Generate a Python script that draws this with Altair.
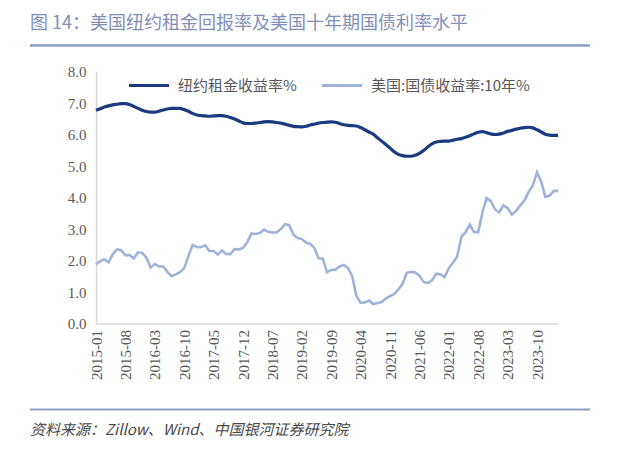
import altair as alt
import pandas as pd

# ---- data ----
months = [f"{y}-{m:02d}" for y in range(2015, 2025) for m in range(1, 13)][:111]
tick_months = months[::7][:16]

rent_yield = [
    6.77, 6.82, 6.87, 6.91, 6.94, 6.96, 6.98, 6.98, 6.95, 6.89, 6.83, 6.77,
    6.73, 6.71, 6.71, 6.74, 6.78, 6.81, 6.83, 6.83, 6.83, 6.79, 6.74, 6.67,
    6.62, 6.60, 6.59, 6.58, 6.59, 6.60, 6.60, 6.58, 6.54, 6.49, 6.43, 6.37,
    6.35, 6.35, 6.36, 6.38, 6.40, 6.41, 6.40, 6.38, 6.36, 6.33, 6.29, 6.26,
    6.25, 6.24, 6.26, 6.30, 6.33, 6.36, 6.38, 6.39, 6.40, 6.39, 6.35, 6.31,
    6.29, 6.28, 6.27, 6.22, 6.15, 6.08, 6.01, 5.90, 5.79, 5.68, 5.57, 5.45,
    5.37, 5.33, 5.31, 5.31, 5.34, 5.40, 5.49, 5.60, 5.70, 5.76, 5.78, 5.79,
    5.79, 5.82, 5.85, 5.87, 5.91, 5.96, 6.02, 6.07, 6.09, 6.06, 6.02, 6.00,
    6.01, 6.05, 6.10, 6.13, 6.17, 6.20, 6.22, 6.23, 6.21, 6.15, 6.08, 6.01,
    5.98, 5.97, 5.97,
]

treasury_10y = [
    1.88, 1.98, 2.04, 1.94, 2.20, 2.36, 2.32, 2.17, 2.17, 2.07, 2.26, 2.24,
    2.09, 1.78, 1.89, 1.81, 1.81, 1.64, 1.50, 1.56, 1.63, 1.76, 2.14, 2.49,
    2.43, 2.42, 2.48, 2.30, 2.30, 2.19, 2.32, 2.21, 2.20, 2.36, 2.35, 2.40,
    2.58, 2.86, 2.84, 2.87, 2.98, 2.91, 2.89, 2.89, 3.00, 3.15, 3.12, 2.83,
    2.71, 2.68, 2.57, 2.53, 2.40, 2.07, 2.06, 1.63, 1.70, 1.71, 1.81, 1.86,
    1.76, 1.50, 0.87, 0.66, 0.67, 0.73, 0.62, 0.65, 0.68, 0.79, 0.87, 0.93,
    1.08, 1.26, 1.61, 1.64, 1.62, 1.52, 1.32, 1.28, 1.37, 1.58, 1.56, 1.47,
    1.76, 1.93, 2.13, 2.75, 2.90, 3.14, 2.90, 2.90, 3.52, 3.98, 3.89, 3.62,
    3.53, 3.75, 3.66, 3.46, 3.57, 3.75, 3.90, 4.17, 4.38, 4.80, 4.50, 4.02,
    4.06, 4.21, 4.21,
]

y_ticks = [0, 1, 2, 3, 4, 5, 6, 7, 8]

s1 = "纽约租金收益率%"
s2 = "美国:国债收益率:10年%"
title_text = "图 14：美国纽约租金回报率及美国十年期国债利率水平"
source_text = "资料来源：Zillow、Wind、中国银河证券研究院"

dark_col = "#1C3A80"
light_col = "#9FB3D9"

df = pd.DataFrame({
    "month": months + months,
    "value": rent_yield + treasury_10y,
    "series": [s1] * len(months) + [s2] * len(months),
})

x_enc = alt.X("month:O", sort=months,
              scale=alt.Scale(type="point", domain=months, padding=0),
              axis=alt.Axis(values=tick_months, labelAngle=-90, title=None))
y_enc = alt.Y("value:Q", scale=alt.Scale(domain=[0, 8], nice=False),
              axis=alt.Axis(values=y_ticks, format=".1f", title=None))
color_enc = alt.Color("series:N",
                      scale=alt.Scale(domain=[s1, s2], range=[dark_col, light_col]),
                      legend=alt.Legend(title=None, orient="none", legendX=31, legendY=-8,
                                        direction="horizontal", symbolType="stroke",
                                        symbolSize=1600, symbolStrokeWidth=3.2,
                                        labelFontSize=15, labelFont="Noto Sans CJK SC",
                                        labelColor="#595959", columnPadding=18,
                                        labelOffset=7))

base = alt.Chart(df)
dark = base.transform_filter(alt.datum.series == s1).mark_line(
    interpolate="monotone", strokeWidth=3.2
).encode(x=x_enc, y=y_enc, color=color_enc)
light = base.transform_filter(alt.datum.series == s2).mark_line(
    strokeWidth=2.6
).encode(x=x_enc, y=y_enc, color=color_enc)

title_layer = alt.Chart(pd.DataFrame({"t": [title_text]})).mark_text(
    align="left", baseline="middle", fontSize=18, font="Noto Sans CJK SC", color="#8390B6"
).encode(x=alt.value(-66), y=alt.value(-48), text="t:N")
title_rule = alt.Chart(pd.DataFrame({"a": [0]})).mark_rule(
    color="#8E9DC5", strokeWidth=2.5
).encode(x=alt.value(-66), x2=alt.value(494), y=alt.value(-26))

source_rule = alt.Chart(pd.DataFrame({"a": [0]})).mark_rule(
    color="#8E9DC5", strokeWidth=2
).encode(x=alt.value(-66), x2=alt.value(494), y=alt.value(338))
source_layer = alt.Chart(pd.DataFrame({"t": [source_text]})).mark_text(
    align="left", baseline="middle", fontSize=15, font="Noto Sans CJK SC",
    fontStyle="italic", color="#4A4A4A"
).encode(x=alt.value(-66), y=alt.value(358), text="t:N")

chart = alt.layer(dark, light, title_layer, title_rule, source_rule, source_layer).properties(
    width=462, height=252, autosize="none",
    padding={"left": 88, "top": 63.5, "right": 60, "bottom": 120},
).configure_view(stroke=None).configure_axis(
    domainColor="#D9D9D9", domainWidth=1.5, ticks=False, grid=False,
    labelFont="Liberation Serif", labelFontSize=15, labelColor="#595959",
).configure_axisY(labelPadding=10).configure_axisX(labelPadding=6)

chart.save("out.html", embed_options={"renderer": "svg", "actions": False})
